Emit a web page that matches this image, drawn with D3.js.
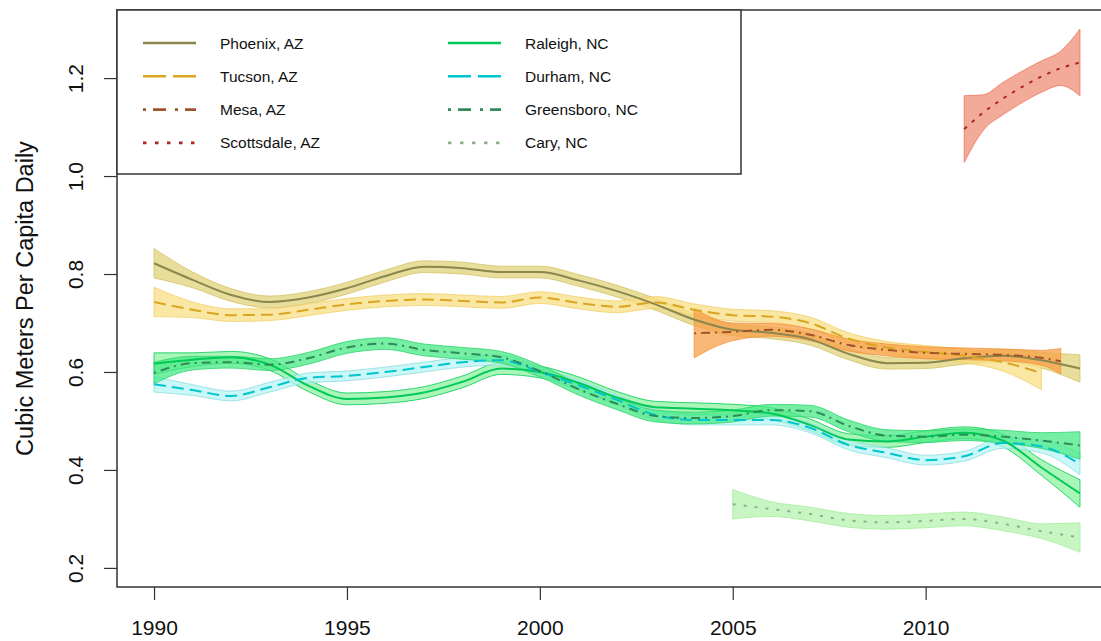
<!DOCTYPE html>
<html>
<head>
<meta charset="utf-8">
<script src="https://cdn.jsdelivr.net/npm/d3@7/dist/d3.min.js"></script>
<style>
  body { margin: 0; background: #fff; }
  svg { display: block; font-family: Arial, "Liberation Sans", sans-serif; }
</style>
</head>
<body>
<svg width="1101" height="641"></svg>
<script>
/* Data: fitted values and half width of the band, by year */
const years = [1990, 1991, 1992, 1993, 1994, 1995, 1996, 1997, 1998, 1999, 2000, 2001, 2002,
  2003, 2004, 2005, 2006, 2007, 2008, 2009, 2010, 2011, 2012, 2013, 2014];

const phoenixFit = [0.822, 0.788, 0.757, 0.743, 0.752, 0.771, 0.796, 0.815, 0.812, 0.804, 0.804, 0.787,
  0.765, 0.738, 0.707, 0.686, 0.680, 0.667, 0.637, 0.618, 0.619, 0.628, 0.633, 0.624, 0.607];
const phoenixSe = [0.030, 0.016, 0.013, 0.012, 0.012, 0.012, 0.012, 0.012, 0.012, 0.012, 0.012, 0.012,
  0.012, 0.012, 0.012, 0.012, 0.012, 0.012, 0.012, 0.012, 0.012, 0.012, 0.013, 0.016, 0.028];

const tucsonYears = years.slice(0, 24);
const tucsonFit = [0.743, 0.727, 0.716, 0.717, 0.727, 0.738, 0.745, 0.748, 0.745, 0.742, 0.752, 0.741,
  0.733, 0.742, 0.727, 0.716, 0.713, 0.700, 0.668, 0.650, 0.641, 0.633, 0.620, 0.598];
const tucsonSe = [0.030, 0.016, 0.013, 0.012, 0.012, 0.012, 0.012, 0.012, 0.012, 0.012, 0.012, 0.012,
  0.012, 0.012, 0.012, 0.012, 0.012, 0.012, 0.012, 0.012, 0.013, 0.014, 0.018, 0.034];

const mesaYears = [2004, 2005, 2006, 2007, 2008, 2009, 2010, 2011, 2012, 2013, 2013.5];
const mesaFit = [0.679, 0.682, 0.686, 0.676, 0.655, 0.645, 0.639, 0.637, 0.635, 0.629, 0.622];
const mesaSe = [0.050, 0.018, 0.013, 0.012, 0.012, 0.012, 0.012, 0.012, 0.012, 0.015, 0.026];

const scottsdaleYears = [2011, 2011.5, 2012, 2012.5, 2013, 2013.5, 2014];
const scottsdaleFit = [1.096, 1.130, 1.158, 1.182, 1.203, 1.220, 1.232];
const scottsdaleSe = [0.068, 0.036, 0.033, 0.032, 0.032, 0.035, 0.068];

const raleighFit = [0.617, 0.625, 0.630, 0.615, 0.572, 0.545, 0.548, 0.558, 0.580, 0.607, 0.600, 0.578,
  0.548, 0.528, 0.525, 0.522, 0.515, 0.492, 0.462, 0.458, 0.468, 0.476, 0.460, 0.405, 0.352];
const raleighSe = [0.022, 0.014, 0.012, 0.012, 0.012, 0.012, 0.012, 0.012, 0.012, 0.012, 0.012, 0.012,
  0.012, 0.012, 0.012, 0.012, 0.012, 0.012, 0.012, 0.012, 0.012, 0.012, 0.013, 0.016, 0.028];

const durhamFit = [0.575, 0.563, 0.551, 0.569, 0.588, 0.592, 0.600, 0.610, 0.620, 0.624, 0.600, 0.573,
  0.543, 0.512, 0.502, 0.502, 0.502, 0.486, 0.451, 0.435, 0.420, 0.428, 0.455, 0.448, 0.412];
const durhamSe = [0.016, 0.011, 0.010, 0.010, 0.010, 0.010, 0.010, 0.010, 0.010, 0.010, 0.010, 0.010,
  0.010, 0.010, 0.010, 0.010, 0.010, 0.010, 0.010, 0.010, 0.010, 0.010, 0.011, 0.013, 0.022];

const greensboroFit = [0.598, 0.618, 0.620, 0.615, 0.628, 0.650, 0.658, 0.645, 0.638, 0.630, 0.602, 0.565,
  0.535, 0.510, 0.506, 0.510, 0.522, 0.520, 0.490, 0.470, 0.468, 0.472, 0.468, 0.460, 0.450];
const greensboroSe = [0.022, 0.014, 0.012, 0.012, 0.012, 0.012, 0.012, 0.012, 0.012, 0.012, 0.012, 0.012,
  0.012, 0.012, 0.012, 0.012, 0.012, 0.012, 0.012, 0.012, 0.012, 0.012, 0.013, 0.016, 0.028];

const caryYears = years.slice(15);
const caryFit = [0.330, 0.320, 0.310, 0.297, 0.293, 0.296, 0.300, 0.290, 0.275, 0.262];
const carySe = [0.030, 0.015, 0.014, 0.014, 0.014, 0.014, 0.014, 0.014, 0.015, 0.030];

const xTicks = [1990, 1995, 2000, 2005, 2010];
const yTicks = [0.2, 0.4, 0.6, 0.8, 1.0, 1.2];
const yTitle = 'Cubic Meters Per Capita Daily';

/* Series styles (dash = plot line, ldash = legend line) */
const cities = [
  { name: 'Phoenix, AZ', x: years, fit: phoenixFit, se: phoenixSe, line: '#8b864e', band: '#e0d27a', edge: '#d4c468', dash: null, ldash: null },
  { name: 'Tucson, AZ', x: tucsonYears, fit: tucsonFit, se: tucsonSe, line: '#daa520', band: '#f8df86', edge: '#f2d06a', dash: '12,6', ldash: '23,7' },
  { name: 'Mesa, AZ', x: mesaYears, fit: mesaFit, se: mesaSe, line: '#a0522d', band: '#f8a048', edge: '#f39236', dash: '2,5,9,5', ldash: '3,7,13,9' },
  { name: 'Scottsdale, AZ', x: scottsdaleYears, fit: scottsdaleFit, se: scottsdaleSe, line: '#b22222', band: '#ec8f76', edge: '#f2705a', dash: '3.5,6.5', ldash: '3.5,8.5' },
  { name: 'Raleigh, NC', x: years, fit: raleighFit, se: raleighSe, line: '#00c957', band: '#8ef3a0', edge: '#00cc55', dash: null, ldash: null },
  { name: 'Durham, NC', x: years, fit: durhamFit, se: durhamSe, line: '#00c5cd', band: '#b8f4f4', edge: '#8edde0', dash: '12,6', ldash: '23,7' },
  { name: 'Greensboro, NC', x: years, fit: greensboroFit, se: greensboroSe, line: '#2e8b57', band: '#48ea86', edge: '#2ed46c', dash: '2,5,9,5', ldash: '3,7,13,9' },
  { name: 'Cary, NC', x: caryYears, fit: caryFit, se: carySe, line: '#8fae8c', band: '#b6f3ae', edge: '#a6ee9e', dash: '3,8', ldash: '3.5,8.5' }
];

/* SVG */
const svg = d3.select('svg');

/* Scales */
const x = d3.scaleLinear().domain([1989.04, 2014.96]).range([117, 1117]);
const y = d3.scaleLinear().domain([0.161, 1.339]).range([587, 10]);

const toPoints = c => c.x.map((yr, i) => ({ yr: yr, v: c.fit[i], se: c.se[i] }));

const band = d3.area()
  .x(d => x(d.yr))
  .y0(d => y(d.v - d.se))
  .y1(d => y(d.v + d.se))
  .curve(d3.curveMonotoneX);

const line = d3.line()
  .x(d => x(d.yr))
  .y(d => y(d.v))
  .curve(d3.curveMonotoneX);

/* Bands */
svg.append('g')
  .attr('class', 'bands')
  .selectAll('path').data(cities)
  .enter().append('path')
  .attr('d', c => band(toPoints(c)))
  .attr('fill', c => c.band)
  .attr('fill-opacity', 0.75)
  .attr('stroke', c => c.edge)
  .attr('stroke-opacity', 0.8)
  .attr('stroke-width', 1);

/* Lines */
svg.append('g')
  .attr('class', 'lines')
  .selectAll('path').data(cities)
  .enter().append('path')
  .attr('d', c => line(toPoints(c)))
  .attr('fill', 'none')
  .attr('stroke', c => c.line)
  .attr('stroke-width', 2)
  .attr('stroke-dasharray', c => c.dash);

/* Plot box */
svg.append('rect')
  .attr('x', 117).attr('y', 10)
  .attr('width', 1000).attr('height', 577)
  .attr('fill', 'none')
  .attr('stroke', '#333')
  .attr('stroke-width', 1.5);

/* Axes */
const xAxis = svg.append('g')
  .attr('transform', 'translate(0,587)')
  .call(d3.axisBottom(x).tickValues(xTicks).tickFormat(d3.format('d')).tickSize(13));
xAxis.select('.domain').remove();
xAxis.selectAll('line').attr('stroke', '#333').attr('stroke-width', 1.2);
xAxis.selectAll('text')
  .attr('y', 48).attr('dy', 0)
  .attr('fill', '#111')
  .style('font-size', '21px');

const yAxis = svg.append('g')
  .attr('transform', 'translate(117,0)')
  .call(d3.axisLeft(y).tickValues(yTicks).tickFormat(d3.format('.1f')).tickSize(13));
yAxis.select('.domain').remove();
yAxis.selectAll('line').attr('stroke', '#333').attr('stroke-width', 1.2);
yAxis.selectAll('text')
  .attr('transform', 'rotate(-90)')
  .attr('x', 0).attr('y', -34).attr('dy', 0)
  .attr('text-anchor', 'middle')
  .attr('fill', '#111')
  .style('font-size', '21px');

svg.append('text')
  .attr('transform', `translate(33,${(10 + 587) / 2}) rotate(-90)`)
  .attr('text-anchor', 'middle')
  .attr('fill', '#111')
  .style('font-size', '23.5px')
  .text(yTitle);

/* Legend */
const legend = svg.append('g').attr('class', 'legend');
legend.append('rect')
  .attr('x', 117).attr('y', 10)
  .attr('width', 624).attr('height', 164)
  .attr('fill', '#fff')
  .attr('stroke', '#333')
  .attr('stroke-width', 1.5);

const item = legend.selectAll('g.item').data(cities)
  .enter().append('g')
  .attr('class', 'item')
  .attr('transform', (c, i) => `translate(${i < 4 ? 143 : 448},${43 + (i % 4) * 33.3})`);

item.append('line')
  .attr('x1', 0).attr('x2', 53)
  .attr('stroke', c => c.line)
  .attr('stroke-width', 2.6)
  .attr('stroke-dasharray', c => c.ldash);

item.append('text')
  .attr('x', 77).attr('dy', '0.36em')
  .attr('fill', '#111')
  .style('font-size', '15.5px')
  .text(c => c.name);
</script>
</body>
</html>
